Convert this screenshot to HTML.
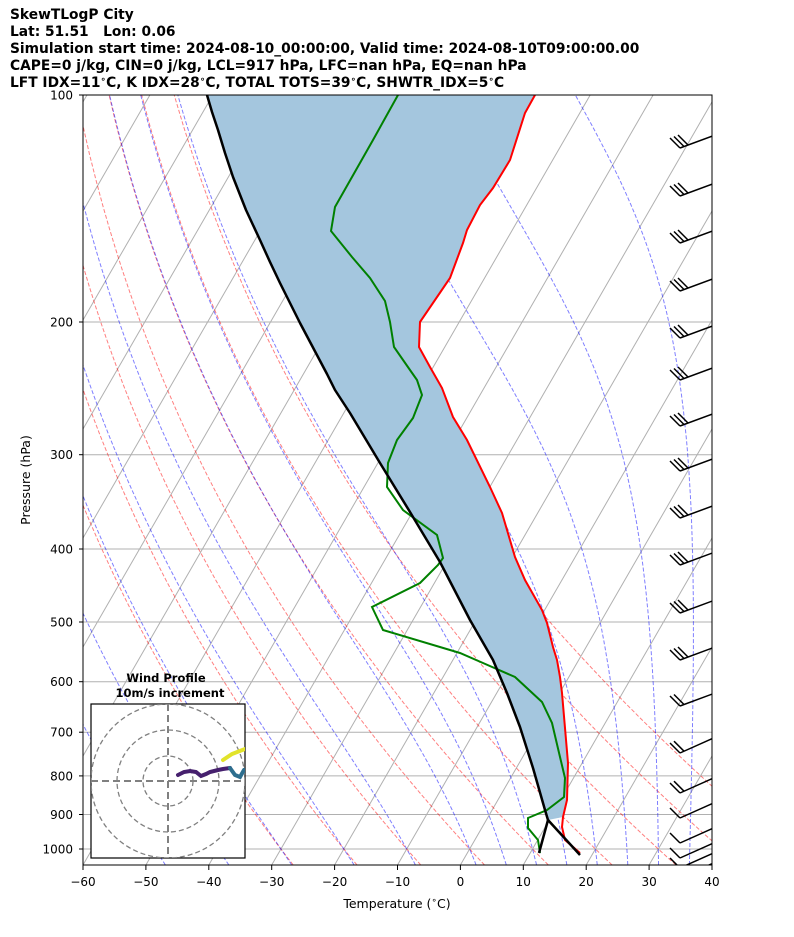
<!DOCTYPE html>
<html><head><meta charset="utf-8">
<style>
body{margin:0;background:#fff;width:794px;height:937px;overflow:hidden;font-family:"DejaVu Sans","Liberation Sans",sans-serif;}
.hd{position:absolute;left:10px;font-weight:bold;font-size:13.8px;line-height:17px;white-space:nowrap;color:#000}
.hd sup{font-size:9px;vertical-align:5px;line-height:0}
</style></head><body>
<div class="hd" style="top:7px">SkewTLogP City<br>Lat: 51.51&nbsp;&nbsp;&nbsp;Lon: 0.06<br>Simulation start time: 2024-08-10_00:00:00, Valid time: 2024-08-10T09:00:00.00<br>CAPE=0 j/kg, CIN=0 j/kg, LCL=917 hPa, LFC=nan hPa, EQ=nan hPa<br>LFT IDX=11<sup>∘</sup>C, K IDX=28<sup>∘</sup>C, TOTAL TOTS=39<sup>∘</sup>C, SHWTR_IDX=5<sup>∘</sup>C</div>
<svg id="s" width="794" height="937" style="position:absolute;left:0;top:0" xmlns="http://www.w3.org/2000/svg" font-family="DejaVu Sans, Liberation Sans, sans-serif">
<defs><clipPath id="c"><rect x="83" y="95" width="629" height="770"/></clipPath>
<clipPath id="h"><rect x="91" y="704" width="154" height="154"/></clipPath></defs>
<g id="bg" clip-path="url(#c)"></g>
<g id="data" clip-path="url(#c)"></g>
<rect x="83" y="95" width="629" height="770" fill="none" stroke="#000" stroke-width="1"/>
<g id="ax" font-size="12"></g>
<text x="397" y="908" font-size="12.5" text-anchor="middle">Temperature (<tspan font-size="9" dy="-5">∘</tspan><tspan dy="5">C)</tspan></text>
<text transform="translate(30,480) rotate(-90)" font-size="12.5" text-anchor="middle">Pressure (hPa)</text>
<g font-size="11.5" font-weight="bold" text-anchor="middle"><text x="166" y="682">Wind Profile</text><text x="170" y="697">10m/s increment</text></g>
<rect x="91" y="704" width="154" height="154" fill="#fff" stroke="#000" stroke-width="1.2"/>
<g clip-path="url(#h)" fill="none" stroke="#808080" stroke-width="1.3" stroke-dasharray="5,3">
<circle cx="168" cy="781" r="25"/><circle cx="168" cy="781" r="51"/><circle cx="168" cy="781" r="77"/>
<line x1="91" y1="781" x2="245" y2="781" stroke-width="2" stroke-dasharray="7,4"/><line x1="168" y1="704" x2="168" y2="858" stroke-width="2" stroke-dasharray="7,4"/>
<g stroke-dasharray="none" stroke-width="4" stroke-linecap="round">
<polyline stroke="#46206e" points="178,775 184,772 190,771 196,772 201,776 206,774 210,772 218,770 223,769 230,768"/>
<polyline stroke="#2d6e8e" points="230,768 235,775 240,777 244,770"/>
<polyline stroke="#e2e32a" points="223,760 232,754 245,749"/>
</g></g>
</svg>
<script>
const NS="http://www.w3.org/2000/svg";
function Y(p){return 95+754*Math.log10(p/100);}
function X(T,p){return 83+(T+60)*6.29+0.577*(865-Y(p));}
function pl(g,pts,attrs){const e=document.createElementNS(NS,"polyline");e.setAttribute("points",pts.map(a=>a[0].toFixed(1)+","+a[1].toFixed(1)).join(" "));e.setAttribute("fill","none");for(const k in attrs)e.setAttribute(k,attrs[k]);g.appendChild(e);}
const bg=document.getElementById("bg"),ax=document.getElementById("ax"),dt=document.getElementById("data");
for(let T=-200;T<=60;T+=10){pl(bg,[[X(T,1050),Y(1050)],[X(T,100),Y(100)]],{stroke:"#b0b0b0","stroke-width":1});}
[100,200,300,400,500,600,700,800,900,1000].forEach(p=>{pl(bg,[[83,Y(p)],[712,Y(p)]],{stroke:"#b0b0b0","stroke-width":1});
const t=document.createElementNS(NS,"text");t.setAttribute("x",73);t.setAttribute("y",Y(p)+4.5);t.setAttribute("text-anchor","end");t.textContent=p;ax.appendChild(t);
pl(ax,[[79,Y(p)],[83,Y(p)]],{stroke:"#000"});});
for(let T=-60;T<=40;T+=10){const x=83+(T+60)*6.29;pl(ax,[[x,865],[x,870]],{stroke:"#000"});
const t=document.createElementNS(NS,"text");t.setAttribute("x",x);t.setAttribute("y",886);t.setAttribute("text-anchor","middle");t.textContent=(T<0?"\u2212"+(-T):T);ax.appendChild(t);}
const ps=[];for(let p=1050;p>=100;p-=10)ps.push(p);
for(let th=-30;th<=50;th+=10){const thK=th+273.15;pl(bg,ps.map(p=>{const T=thK*Math.pow(p/1000,0.2857)-273.15;return[X(T,p),Y(p)];}),{stroke:"rgba(255,0,0,0.5)","stroke-width":1,"stroke-dasharray":"4,2"});}
function es(T){return 6.112*Math.exp(17.67*(T-273.15)/(T-29.65));}
function dTdp(T,p){const e=es(T),rs=0.622*e/(p-e),Rd=287,Cp=1005,Lv=2.5e6;return (Rd*T+Lv*rs)/(p*(Cp+Lv*Lv*rs*0.622/(Rd*T*T)));}
function integ(T0,p0,p1,h){let T=T0,p=p0,out=[[p,T]];const n=Math.round(Math.abs(p1-p0)/h),d=(p1-p0)/n;for(let i=0;i<n;i++){const k1=dTdp(T,p),k2=dTdp(T+d*k1/2,p+d/2),k3=dTdp(T+d*k2/2,p+d/2),k4=dTdp(T+d*k3,p+d);T+=d*(k1+2*k2+2*k3+k4)/6;p+=d;out.push([p,T]);}return out;}
const mts=[-50,-40,-30,-20,-10,0,5,10,15,20,25,30,35];
mts.forEach(t0=>{const up=integ(t0+273.15,1000,100,5),dn=integ(t0+273.15,1000,1050,5);const all=dn.reverse().concat(up.slice(1));
pl(bg,all.map(a=>[X(a[1]-273.15,a[0]),Y(a[0])]),{stroke:"rgba(0,0,255,0.5)","stroke-width":1,"stroke-dasharray":"4,2"});});
const red=[[535,95],[525,113],[510,160],[493,188],[480,205],[467,230],[463,243],[450,278],[420,322],[419,347],[430,367],[442,388],[453,417],[467,440],[490,487],[502,513],[515,557],[525,580],[542,610],[547,623],[553,647],[557,660],[560,677],[562,693],[568,763],[567,800],[563,817],[562,827],[565,840],[580,853]];
const blk=[[207,95],[212,112],[218,130],[225,153],[233,177],[246,210],[260,240],[270,262],[280,283],[290,303],[300,323],[309,340],[318,357],[327,374],[335,390],[350,413],[380,463],[410,512],[440,562],[470,620],[493,660],[507,693],[520,727],[533,768],[545,810],[548,820]];
const redUp=red.filter(a=>a[1]<=820).reverse();
const fill=blk.concat([[563,817]]).concat(redUp);
const pg=document.createElementNS(NS,"polygon");pg.setAttribute("points",fill.map(a=>a.join(",")).join(" "));pg.setAttribute("fill","#a4c6de");pg.setAttribute("stroke","none");dt.appendChild(pg);
pl(dt,red,{stroke:"#ff0000","stroke-width":2});
const grn=[[398,95],[373,140],[335,207],[331,231],[352,257],[370,278],[385,301],[390,322],[394,347],[410,370],[417,380],[422,395],[413,418],[397,440],[388,463],[387,487],[403,510],[437,535],[443,558],[438,565],[420,583],[372,607],[383,630],[460,653],[483,663],[515,677],[542,702],[552,723],[560,757],[565,778],[564,797],[547,810],[528,818],[528,828],[538,840],[540,853]];
pl(dt,grn,{stroke:"#008000","stroke-width":2});
pl(dt,blk.concat([[580,855]]),{stroke:"#000","stroke-width":2.5,"stroke-linejoin":"round"});
pl(dt,[[548,820],[539,853]],{stroke:"#000","stroke-width":2.5});
const bys=[140,188,235,283,330,372,418,463,510,557,605,652,698,745,785,810,835,850,860,870];
bys.forEach((y,i)=>{const x0=680,sl=(i<13)?-0.37:-0.45;pl(dt,[[x0,y+8],[715,y+8+35*sl]],{stroke:"#000","stroke-width":1.5});
const nf=i<12?3:(i<15?2:1);for(let k=0;k<nf;k++){const fx=x0+k*4,fy=y+8+k*4*sl;pl(dt,[[fx,fy],[fx-10,fy-10]],{stroke:"#000","stroke-width":1.5});}});
</script>
</body></html>
